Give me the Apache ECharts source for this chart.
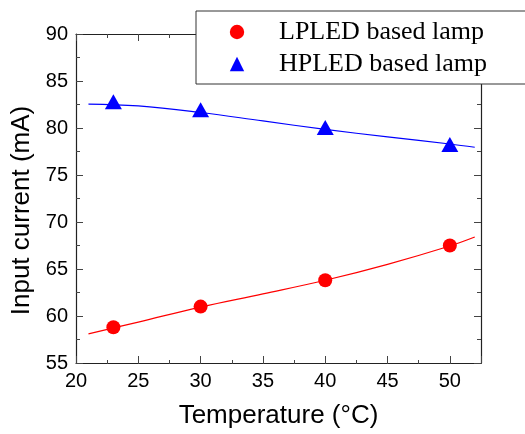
<!DOCTYPE html>
<html>
<head>
    <meta charset="utf-8">
    <script src="https://cdn.jsdelivr.net/npm/echarts@6/dist/echarts.min.js"></script>
</head>
<body style="margin:0">
    <div id="main" style="width:525px;height:434px;"></div>
    <script type="text/javascript">
        // measured points
        var temps = [23, 30, 40, 50];
        var lpled = [58.8, 61.0, 63.8, 67.5];
        var hpled = [82.8, 81.95, 80.05, 78.25];
        // fitted curves
        var fitT = [21, 25, 30, 35, 40, 45, 50, 52];
        var lpledFit = [58.1, 59.35, 60.95, 62.35, 63.8, 65.5, 67.45, 68.4];
        var hpledFit = [82.55, 82.35, 81.65, 80.75, 79.85, 79.05, 78.3, 77.95];

        var xTicks = [20, 25, 30, 35, 40, 45, 50];

        function pairs(xs, ys) {
            return xs.map(function (x, i) { return [x, ys[i]]; });
        }

        var myChart = echarts.init(document.getElementById('main'));
        var axisFont = 'Liberation Sans, Arial, sans-serif';
        var lineCol = '#222';
        var tickCol = '#444';
        var gridBox = { left: 76, top: 34, right: 44, bottom: 70 };

        var option = {
            animation: false,
            grid: [gridBox, gridBox],
            legend: {
                data: ['LPLED based lamp', 'HPLED based lamp'],
                orient: 'vertical',
                left: 196,
                top: 11,
                padding: [8, 60, 7, 3],
                itemGap: 6,
                itemWidth: 74,
                itemHeight: 18,
                backgroundColor: '#fff',
                borderColor: '#333',
                borderWidth: 1,
                textStyle: {
                    fontFamily: 'Liberation Serif, Times New Roman, serif',
                    fontSize: 26,
                    lineHeight: 26,
                    color: '#000'
                }
            },
            xAxis: [
                {
                    type: 'value', gridIndex: 0, position: 'bottom',
                    min: 20, max: 52.5, interval: 5,
                    name: 'Temperature (\u00B0C)', nameLocation: 'middle', nameGap: 40,
                    nameTextStyle: { fontFamily: axisFont, fontSize: 26, color: '#000' },
                    axisLine: { lineStyle: { color: lineCol, width: 1.2 } },
                    axisTick: { inside: true, length: 7, lineStyle: { color: tickCol } },
                    axisLabel: {
                        fontFamily: axisFont, fontSize: 20, color: '#000', margin: 8,
                        formatter: function (v) { return xTicks.indexOf(v) >= 0 ? String(v) : ''; }
                    },
                    splitLine: { show: false }
                },
                {
                    type: 'value', gridIndex: 0, position: 'top',
                    min: 20, max: 52.5, interval: 5,
                    axisLine: { lineStyle: { color: lineCol, width: 1.2 } },
                    axisTick: { inside: true, length: 7, lineStyle: { color: tickCol } },
                    axisLabel: { show: false },
                    splitLine: { show: false }
                },
                {
                    type: 'value', gridIndex: 1, position: 'bottom',
                    min: 20, max: 52.5, interval: 2.5,
                    axisLine: { show: false },
                    axisTick: { inside: true, length: 4, lineStyle: { color: tickCol } },
                    axisLabel: { show: false },
                    splitLine: { show: false }
                },
                {
                    type: 'value', gridIndex: 1, position: 'top',
                    min: 20, max: 52.5, interval: 2.5,
                    axisLine: { show: false },
                    axisTick: { inside: true, length: 4, lineStyle: { color: tickCol } },
                    axisLabel: { show: false },
                    splitLine: { show: false }
                }
            ],
            yAxis: [
                {
                    type: 'value', gridIndex: 0, position: 'left',
                    min: 55, max: 90, interval: 5,
                    name: 'Input current (mA)', nameLocation: 'middle', nameGap: 40,
                    nameTextStyle: { fontFamily: axisFont, fontSize: 26, color: '#000', padding: [0, 24, 0, 0] },
                    axisLine: { show: true, lineStyle: { color: lineCol, width: 1.2 } },
                    axisTick: { inside: true, length: 7, lineStyle: { color: tickCol } },
                    minorTick: { show: true, splitNumber: 2, length: 4, lineStyle: { color: tickCol } },
                    axisLabel: { fontFamily: axisFont, fontSize: 20, color: '#000', margin: 8 },
                    splitLine: { show: false }
                },
                {
                    type: 'value', gridIndex: 0, position: 'right',
                    min: 55, max: 90, interval: 5,
                    axisLine: { show: true, lineStyle: { color: lineCol, width: 1.2 } },
                    axisTick: { inside: true, length: 7, lineStyle: { color: tickCol } },
                    minorTick: { show: true, splitNumber: 2, length: 4, lineStyle: { color: tickCol } },
                    axisLabel: { show: false },
                    splitLine: { show: false }
                },
                {
                    type: 'value', gridIndex: 1, show: false,
                    min: 55, max: 90
                }
            ],
            series: [
                {
                    name: 'LPLED fit', type: 'line', xAxisIndex: 0, yAxisIndex: 0,
                    data: pairs(fitT, lpledFit), smooth: 0.4, showSymbol: false,
                    lineStyle: { color: '#ff0000', width: 1.2 }, z: 2
                },
                {
                    name: 'HPLED fit', type: 'line', xAxisIndex: 0, yAxisIndex: 0,
                    data: pairs(fitT, hpledFit), smooth: 0.4, showSymbol: false,
                    lineStyle: { color: '#0000ff', width: 1.2 }, z: 2
                },
                {
                    name: 'LPLED based lamp', type: 'line', xAxisIndex: 0, yAxisIndex: 0,
                    data: pairs(temps, lpled), symbol: 'circle', symbolSize: 14,
                    itemStyle: { color: '#ff0000' },
                    lineStyle: { opacity: 0 }, z: 3
                },
                {
                    name: 'HPLED based lamp', type: 'line', xAxisIndex: 0, yAxisIndex: 0,
                    data: pairs(temps, hpled), symbol: 'triangle', symbolSize: [17, 15],
                    itemStyle: { color: '#0000ff' },
                    lineStyle: { opacity: 0 }, z: 3
                }
            ]
        };

        myChart.setOption(option);
    </script>
</body>
</html>
